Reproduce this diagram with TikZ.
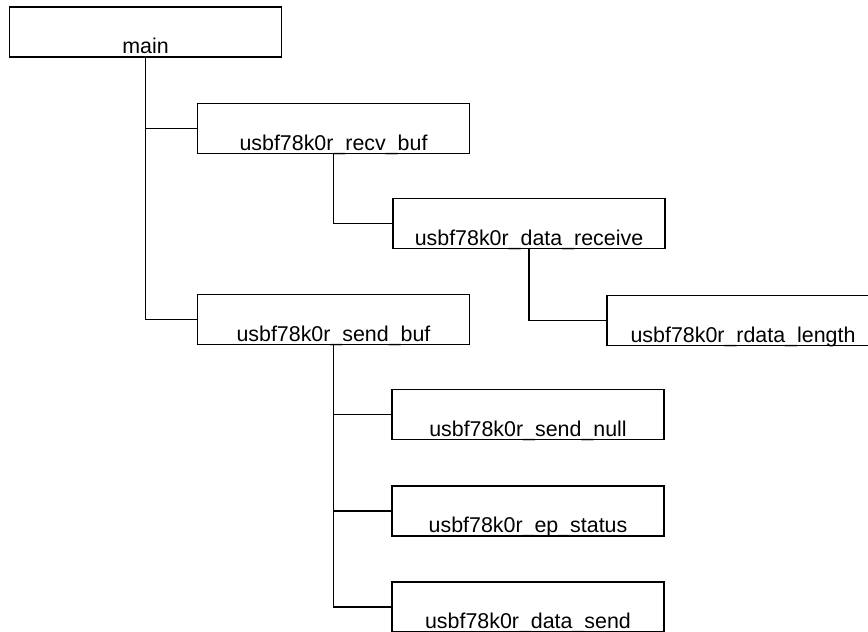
\documentclass[tikz,border=0pt]{standalone}
\usepackage{fontspec}
\setmainfont{Liberation Sans}

\begin{document}
\begin{tikzpicture}[x=0.5pt, y=-0.5pt,
    font=\fontsize{10.7}{12}\selectfont,
    fnbox/.style={draw, rectangle, line width=0.8pt, inner sep=0pt,
      minimum width=136pt, text height=23.4pt, text depth=1.6pt},
    link/.style={draw, line width=0.7pt}
    ]

    \useasboundingbox (0,0) rectangle (868,632);
    \clip (0,0) rectangle (868,632);

    \node[fnbox] (main)     at (145.5,32)  {main};
    \node[fnbox] (recvbuf)  at (333.5,128.5) {usbf78k0r\_recv\_buf};
    \node[fnbox] (datarecv) at (529,223.5) {usbf78k0r\_data\_receive};
    \node[fnbox] (rdatalen) at (743,320.5) {usbf78k0r\_rdata\_length};
    \node[fnbox] (sendbuf)  at (333.5,319.5) {usbf78k0r\_send\_buf};
    \node[fnbox] (sendnull) at (528,414.5) {usbf78k0r\_send\_null};
    \node[fnbox] (epstatus) at (528,511)   {usbf78k0r\_ep\_status};
    \node[fnbox] (datasend) at (528,607)   {usbf78k0r\_data\_send};

    \draw[link] (main.south) |- (recvbuf.west);
    \draw[link] (main.south) |- (sendbuf.west);
    \draw[link] (recvbuf.south) |- (datarecv.west);
    \draw[link] (datarecv.south) |- (rdatalen.west);
    \foreach \callee in {sendnull,epstatus,datasend}
      \draw[link] (sendbuf.south) |- (\callee.west);
    %
\end{tikzpicture}
\end{document}
